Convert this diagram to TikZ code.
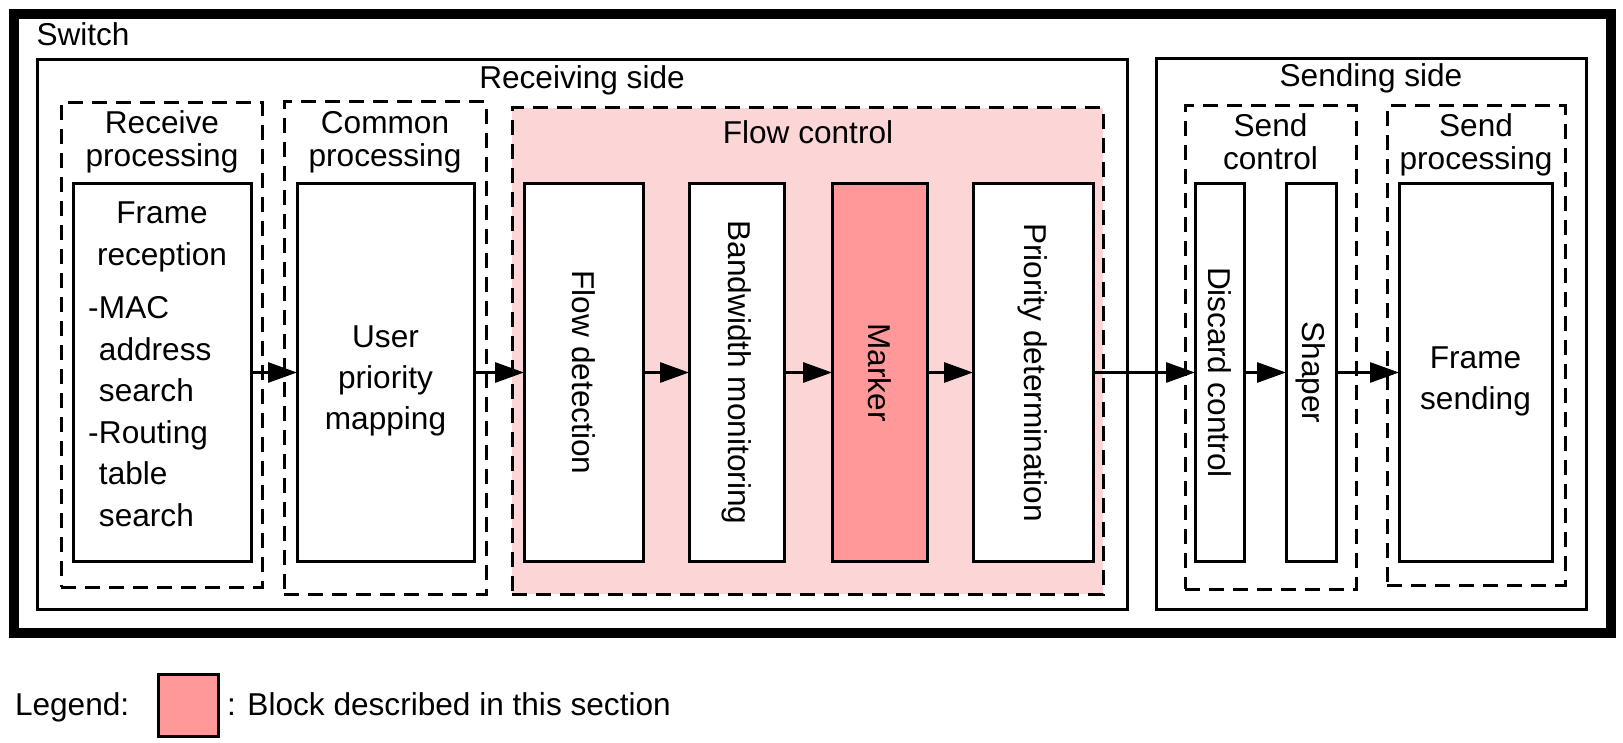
\documentclass[tikz,border=0pt]{standalone}
\usepackage{fontspec}
\setmainfont{Liberation Sans}
\usetikzlibrary{arrows.meta,fit}
\definecolor{lightpink}{RGB}{252,214,214}
\definecolor{markpink}{RGB}{255,153,153}
\newcommand{\mlines}[1]{\begin{tabular}[t]{@{}c@{}}#1\end{tabular}}
\begin{document}
\begin{tikzpicture}[x=0.5pt,y=-0.5pt,
  every node/.style={inner sep=0pt, outer sep=0pt, font=\fontsize{15.8}{16.5}\selectfont},
  outerframe/.style={draw, line width=5pt},
  side/.style={draw, line width=1.5pt},
  dgroup/.style={draw, line width=1.5pt, dash pattern=on 7.5pt off 4.5pt},
  block/.style={draw, line width=1.5pt, fill=white},
  lbl/.style={anchor=base},
  boxtxt/.style={anchor=base, font=\fontsize{15.8}{20.5}\selectfont},
  vtxt/.style={rotate=-90},
  flow/.style={line width=1.5pt, -{Triangle[length=14.5pt,width=10pt]}},
]
\useasboundingbox (0,0) rectangle (1623,743);

% containers
\node[outerframe, fit={(14,14) (1611,633)}] (switch) {};
\node[side, fit={(37,60) (1127,609)}] (recv) {};
\node[side, fit={(1156,59) (1586,609)}] (send) {};
\node[dgroup, fit={(61,103) (262,587)}] (rp) {};
\node[dgroup, fit={(284,102) (486,594)}] (cp) {};
\node[dgroup, fill=lightpink, fit={(512,108) (1103,594)}] (fc) {};
\node[dgroup, fit={(1185,106) (1356,589)}] (sc) {};
\node[dgroup, fit={(1387,106) (1565,585)}] (sp) {};

% blocks
\node[block, fit={(73,184) (251,561)}] (fr) {};
\node[block, fit={(297,184) (474,561)}] (up) {};
\node[block, fit={(524,184) (643,561)}] (fd) {};
\node[block, fit={(689,184) (784,561)}] (bw) {};
\node[block, fill=markpink, fit={(832,184) (927,561)}] (mk) {};
\node[block, fit={(973,184) (1093,561)}] (pd) {};
\node[block, fit={(1195,184) (1244,561)}] (dc) {};
\node[block, fit={(1286,184) (1336,561)}] (sh) {};
\node[block, fit={(1399,184) (1552,561)}] (fs) {};

% container labels
\node[anchor=base west] (switchl) at (36.5,46) {Switch};
\node[lbl] (recvl) at (582,89) {Receiving side};
\node[lbl] (sendl) at (1371,87) {Sending side};
\node[lbl] (rpl) at (162,134) {\mlines{Receive\\processing}};
\node[lbl] (cpl) at (385,134) {\mlines{Common\\processing}};
\node[lbl] (fcl) at (808,144) {Flow control};
\node[lbl] (scl) at (1270.5,137) {\mlines{Send\\control}};
\node[lbl] (spl) at (1476,137) {\mlines{Send\\processing}};

% block labels
\node[anchor=base west, font=\fontsize{15.8}{20.75}\selectfont] (frl) at (88,224)
  {\begin{tabular}[t]{@{}l@{}}\makebox[74pt]{Frame}\\\makebox[74pt]{reception}\\[6pt]
   \makebox[5.5pt][l]{-}MAC\\\hspace*{5.5pt}address\\\hspace*{5.5pt}search\\
   \makebox[5.5pt][l]{-}Routing\\\hspace*{5.5pt}table\\\hspace*{5.5pt}search\end{tabular}};
\node[boxtxt] (upl) at (385.5,348) {\mlines{User\\priority\\mapping}};
\node[vtxt] (fdl) at (fd.center) {Flow detection};
\node[vtxt] (bwl) at (bw.center) {Bandwidth monitoring};
\node[vtxt] (mkl) at (mk.center) {Marker};
\node[vtxt] (pdl) at (pd.center) {Priority determination};
\node[vtxt] (dcl) at (dc.center) {Discard control};
\node[vtxt] (shl) at (sh.center) {Shaper};
\node[anchor=base, font=\fontsize{15.8}{20.75}\selectfont] (fsl) at (1475.5,368) {\mlines{Frame\\sending}};

% connectors
\draw[flow] (fr.east) -- (up.west);
\draw[flow] (up.east) -- (fd.west);
\draw[flow] (fd.east) -- (bw.west);
\draw[flow] (bw.east) -- (mk.west);
\draw[flow] (mk.east) -- (pd.west);
\draw[flow] (pd.east) -- (dc.west);
\draw[flow] (dc.east) -- (sh.west);
\draw[flow] (sh.east) -- (fs.west);

% legend
\node[anchor=base west] (lgl) at (15,715) {Legend:};
\node[block, fill=markpink, fit={(158,674) (218,736)}] (lgbox) {};
\node[anchor=base west] (lgt) at (227,715) {: Block described in this section};
\end{tikzpicture}
\end{document}
